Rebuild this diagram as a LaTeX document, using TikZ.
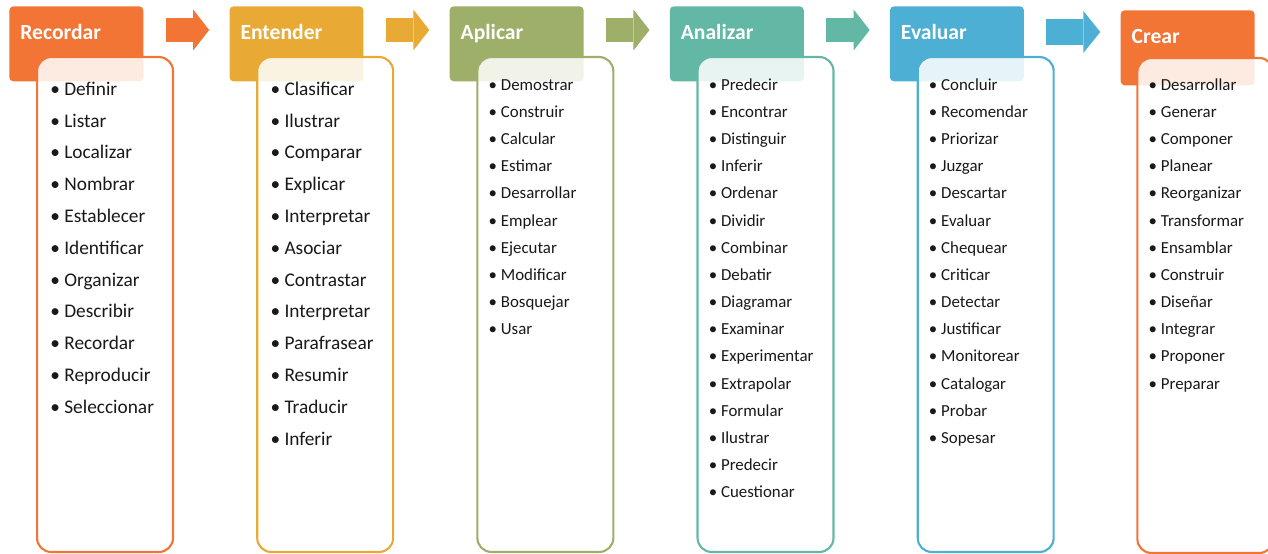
\documentclass[tikz,border=0pt]{standalone}
\usepackage{fontspec}
\setmainfont{Carlito}
\usetikzlibrary{calc, positioning, arrows.meta}

\definecolor{recordarC}{HTML}{F27536}
\definecolor{entenderC}{HTML}{E9AA35}
\definecolor{aplicarC}{HTML}{9DAF69}
\definecolor{analizarC}{HTML}{63B8A5}
\definecolor{evaluarC}{HTML}{4EAFD4}
\definecolor{crearC}{HTML}{F27536}

\begin{document}
\begin{tikzpicture}[
          x=0.02cm, y=-0.02cm,
          node distance=1.71cm,
          header/.style={rectangle, rounded corners=0.08cm, minimum width=2.68cm, minimum height=1.5cm, inner sep=0pt},
          listbox/.style={rectangle, draw, line width=1.2pt, rounded corners=0.28cm, fill=white, fill opacity=0.86, minimum width=2.72cm, minimum height=9.9cm, inner sep=0pt},
          title/.style={text=white, font=\fontsize{12.3}{14}\selectfont\bfseries, inner sep=0pt, anchor=base west},
          biglist/.style={align=left, inner sep=0pt, anchor=north west, text=black!90, font=\fontsize{11}{18.1}\selectfont},
          smalllist/.style={align=left, inner sep=0pt, anchor=north west, text=black!90, font=\fontsize{9.6}{15.46}\selectfont},
          flowarrow/.style={line width=0.48cm, -{Triangle[length=0.32cm, width=0.82cm, line width=0pt]}, shorten <=0.44cm, shorten >=0.4cm}
        ]
          \useasboundingbox (0,0) rectangle (1268,554);

          % headers
          \node[header, fill=recordarC, anchor=north west] (h1) at (9,6) {};
          \node[header, fill=entenderC, right=of h1] (h2) {};
          \node[header, fill=aplicarC, right=of h2] (h3) {};
          \node[header, fill=analizarC, right=of h3] (h4) {};
          \node[header, fill=evaluarC, right=of h4] (h5) {};
          \node[header, fill=crearC, right=1.92cm of h5, yshift=-0.08cm] (h6) {};

          \node[title] (t1) at ($(h1.north west)+(11,34)$) {Recordar};
          \node[title] (t2) at ($(h2.north west)+(11,34)$) {Entender};
          \node[title] (t3) at ($(h3.north west)+(11,34)$) {Aplicar};
          \node[title] (t4) at ($(h4.north west)+(11,34)$) {Analizar};
          \node[title] (t5) at ($(h5.north west)+(11,34)$) {Evaluar};
          \node[title] (t6) at ($(h6.north west)+(11,34)$) {Crear};

          % list boxes
          \node[listbox, draw=recordarC, anchor=north west] (l1) at ($(h1.north west)+(27,50)$) {};
          \node[listbox, draw=entenderC, anchor=north west] (l2) at ($(h2.north west)+(27,50)$) {};
          \node[listbox, draw=aplicarC, anchor=north west] (l3) at ($(h3.north west)+(27,50)$) {};
          \node[listbox, draw=analizarC, anchor=north west] (l4) at ($(h4.north west)+(27,50)$) {};
          \node[listbox, draw=evaluarC, anchor=north west] (l5) at ($(h5.north west)+(27,50)$) {};
          \node[listbox, draw=crearC, anchor=north west] (l6) at ($(h6.north west)+(16,47)$) {};

          \node[biglist] (i1) at ($(l1.north west)+(14,16.6)$) {\strut\textbullet~Definir\\ \textbullet~Listar\\ \textbullet~Localizar\\ \textbullet~Nombrar\\ \textbullet~Establecer\\ \textbullet~Identificar\\ \textbullet~Organizar\\ \textbullet~Describir\\ \textbullet~Recordar\\ \textbullet~Reproducir\\ \textbullet~Seleccionar};
          \node[biglist] (i2) at ($(l2.north west)+(14,16.6)$) {\strut\textbullet~Clasificar\\ \textbullet~Ilustrar\\ \textbullet~Comparar\\ \textbullet~Explicar\\ \textbullet~Interpretar\\ \textbullet~Asociar\\ \textbullet~Contrastar\\ \textbullet~Interpretar\\ \textbullet~Parafrasear\\ \textbullet~Resumir\\ \textbullet~Traducir\\ \textbullet~Inferir};
          \node[smalllist] (i3) at ($(l3.north west)+(12,14.9)$) {\strut\textbullet~Demostrar\\ \textbullet~Construir\\ \textbullet~Calcular\\ \textbullet~Estimar\\ \textbullet~Desarrollar\\ \textbullet~Emplear\\ \textbullet~Ejecutar\\ \textbullet~Modificar\\ \textbullet~Bosquejar\\ \textbullet~Usar};
          \node[smalllist] (i4) at ($(l4.north west)+(12,14.9)$) {\strut\textbullet~Predecir\\ \textbullet~Encontrar\\ \textbullet~Distinguir\\ \textbullet~Inferir\\ \textbullet~Ordenar\\ \textbullet~Dividir\\ \textbullet~Combinar\\ \textbullet~Debatir\\ \textbullet~Diagramar\\ \textbullet~Examinar\\ \textbullet~Experimentar\\ \textbullet~Extrapolar\\ \textbullet~Formular\\ \textbullet~Ilustrar\\ \textbullet~Predecir\\ \textbullet~Cuestionar};
          \node[smalllist] (i5) at ($(l5.north west)+(12,14.9)$) {\strut\textbullet~Concluir\\ \textbullet~Recomendar\\ \textbullet~Priorizar\\ \textbullet~Juzgar\\ \textbullet~Descartar\\ \textbullet~Evaluar\\ \textbullet~Chequear\\ \textbullet~Criticar\\ \textbullet~Detectar\\ \textbullet~Justificar\\ \textbullet~Monitorear\\ \textbullet~Catalogar\\ \textbullet~Probar\\ \textbullet~Sopesar};
          \node[smalllist] (i6) at ($(l6.north west)+(12,13.9)$) {\strut\textbullet~Desarrollar\\ \textbullet~Generar\\ \textbullet~Componer\\ \textbullet~Planear\\ \textbullet~Reorganizar\\ \textbullet~Transformar\\ \textbullet~Ensamblar\\ \textbullet~Construir\\ \textbullet~Diseñar\\ \textbullet~Integrar\\ \textbullet~Proponer\\ \textbullet~Preparar};

          % arrows between stages
          \draw[flowarrow, recordarC] (h1.east |- 0,30) -- (h2.west |- 0,30);
          \draw[flowarrow, entenderC] (h2.east |- 0,30) -- (h3.west |- 0,30);
          \draw[flowarrow, aplicarC] (h3.east |- 0,30) -- (h4.west |- 0,30);
          \draw[flowarrow, analizarC] (h4.east |- 0,30) -- (h5.west |- 0,30);
          \draw[flowarrow, evaluarC, line width=0.54cm, -{Triangle[length=0.34cm, width=0.84cm, line width=0pt]}] (h5.east |- 0,32) -- (h6.west |- 0,32);
        \end{tikzpicture}
\end{document}
